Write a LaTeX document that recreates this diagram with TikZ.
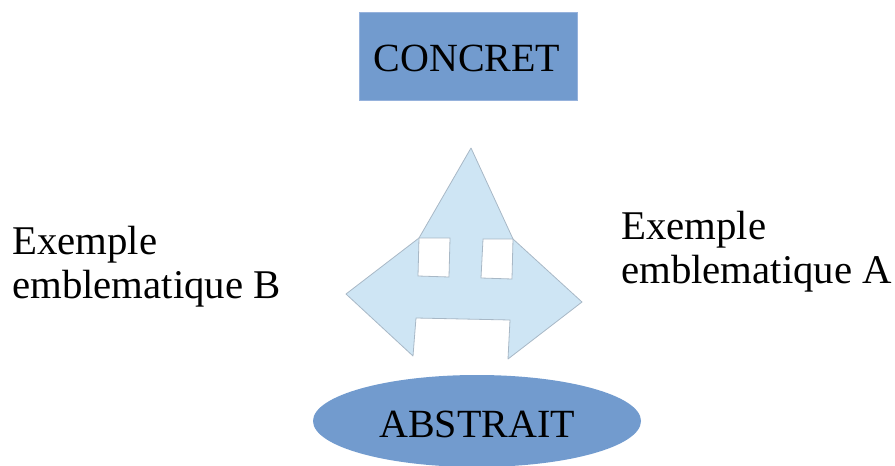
\documentclass[tikz,border=0pt]{standalone}
\usepackage{fontspec}
\setmainfont{Liberation Serif}
\usetikzlibrary{shapes.geometric}
\definecolor{boxblue}{RGB}{114,155,206}
\definecolor{edgeblue}{RGB}{150,178,220}
\definecolor{arrowfill}{RGB}{206,229,244}
\definecolor{arrowedge}{RGB}{168,184,198}
\begin{document}
\begin{tikzpicture}[
  x=1pt, y=-1pt,
  bigtext/.style={font=\fontsize{40}{45}\selectfont, inner sep=0pt, align=left},
  sidetext/.style={bigtext, font=\fontsize{40.8}{44}\selectfont},
  topbox/.style={draw=edgeblue, fill=boxblue, inner sep=0pt},
  bottomoval/.style={ellipse, fill=boxblue, inner sep=0pt},
  arrowshape/.style={draw=arrowedge, fill=arrowfill, line width=0.8pt, line join=round},
  hole/.style={draw=arrowedge, fill=white, line width=0.8pt},
]
\useasboundingbox (0,0) rectangle (895,466);

% Top box
\node[topbox, minimum width=218pt, minimum height=88pt] (concret) at (468,56) {};
\node[bigtext, anchor=base] (concrettext) at (467,71) {CONCRET};

% Bottom ellipse
\node[bottomoval, minimum width=328pt, minimum height=92pt] (abstrait) at (477,421) {};
\node[bigtext, anchor=base] (abstraittext) at (477,437) {ABSTRAIT};

% Three-way arrow shape
\draw[arrowshape] (471,148) -- (513,239) -- (582,302) -- (508,359) -- (510,320)
  -- (416,318) -- (413,356) -- (346,294) -- (419,238) -- cycle;
\draw[hole] (419,238) -- (450,238) -- (449,277) -- (418,276) -- cycle;
\draw[hole] (483,239) -- (513,239) -- (512,279) -- (481,278) -- cycle;

% Side labels (base = last line)
\node[sidetext, anchor=base west] (exb) at (12,298) {Exemple\\emblematique B};
\node[sidetext, anchor=base west] (exa) at (621,283) {Exemple\\emblematique A};

\end{tikzpicture}
\end{document}
